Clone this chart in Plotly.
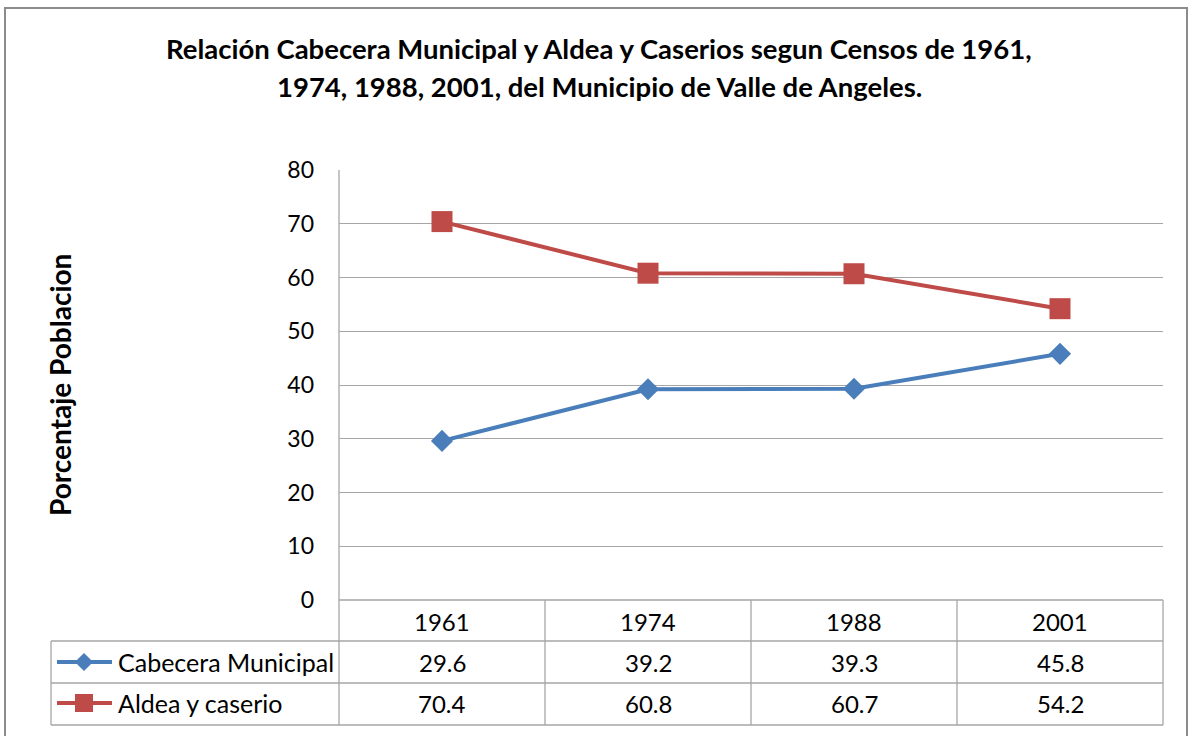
import plotly.graph_objects as go

years = ["1961", "1974", "1988", "2001"]
cabecera = [29.6, 39.2, 39.3, 45.8]
aldea = [70.4, 60.8, 60.7, 54.2]
series_names = ["Cabecera Municipal", "Aldea y caserio"]
title_lines = ["Relación Cabecera Municipal y Aldea y Caserios segun Censos de 1961,",
               "1974, 1988, 2001, del Municipio de Valle de Angeles."]
y_title = "Porcentaje Poblacion"
y_ticks = [0, 10, 20, 30, 40, 50, 60, 70, 80]

W, H = 1193, 736
BLUE = "#4a7ebb"
RED = "#be4b48"
GRID = "#a6a6a6"
FONT = "Lato, Open Sans, sans-serif"

L, R, T, B = 339, 1163, 170, 600  # plot area px
xs = list(range(len(years)))

fig = go.Figure()
fig.add_trace(go.Scatter(x=xs, y=cabecera, mode="lines+markers", name=series_names[0],
                         line=dict(color=BLUE, width=4),
                         marker=dict(symbol="diamond", size=17, color=BLUE),
                         xaxis="x", yaxis="y", showlegend=False))
fig.add_trace(go.Scatter(x=xs, y=aldea, mode="lines+markers", name=series_names[1],
                         line=dict(color=RED, width=4),
                         marker=dict(symbol="square", size=21, color=RED),
                         xaxis="x", yaxis="y", showlegend=False))

# legend glyphs in table (pixel overlay axes)
row_y = [662, 703]
colors = [BLUE, RED]
symbols = ["diamond", "square"]
gsizes = [14, 18]
for i in range(2):
    fig.add_trace(go.Scatter(x=[57, 112], y=[row_y[i], row_y[i]], mode="lines",
                             line=dict(color=colors[i], width=4), xaxis="x2", yaxis="y2",
                             showlegend=False, hoverinfo="skip"))
    fig.add_trace(go.Scatter(x=[84], y=[row_y[i]], mode="markers",
                             marker=dict(symbol=symbols[i], size=gsizes[i], color=colors[i]),
                             xaxis="x2", yaxis="y2", showlegend=False, hoverinfo="skip"))

shapes = []
def line(x0, y0, x1, y1, color=GRID, width=1.3):
    shapes.append(dict(type="line", xref="x2", yref="y2", x0=x0, y0=y0, x1=x1, y1=y1,
                       line=dict(color=color, width=width), layer="below"))

# outer frame
shapes.append(dict(type="rect", xref="x2", yref="y2", x0=5, y0=8, x1=1187, y1=745,
                   line=dict(color="#8c8c8c", width=2), layer="below"))
# table lines
col_w = (R - L) / len(years)
table_rows = [B, 641, 683, 725]
for yy in table_rows[1:]:
    line(51, yy, R, yy)
line(L, B, R, B)
line(51, 641, 51, 725)
for k in range(len(years) + 1):
    line(L + k * col_w, B, L + k * col_w, 725)
line(L, T, L, B)

annotations = []
def text(x, y, s, size=24, bold=False, xanchor="center", angle=0):
    annotations.append(dict(xref="x2", yref="y2", x=x, y=y, text=f"<b>{s}</b>" if bold else s,
                            showarrow=False, xanchor=xanchor, yanchor="middle", textangle=angle,
                            font=dict(family=FONT, size=size, color="#000000")))

text(599, 48, title_lines[0], size=27.5, bold=True)
text(599, 86, title_lines[1], size=27.5, bold=True)
text(60, 385, y_title, size=28, bold=True, angle=-90)

header_y = 621
for k, yr in enumerate(years):
    cx = L + (k + 0.5) * col_w
    text(cx, header_y, yr)
    text(cx, row_y[0], f"{cabecera[k]:.1f}")
    text(cx, row_y[1], f"{aldea[k]:.1f}")
text(116, row_y[0], series_names[0], xanchor="left", size=25)
text(116, row_y[1], series_names[1], xanchor="left", size=25)

fig.update_layout(
    width=W, height=H, margin=dict(l=0, r=0, t=0, b=0, pad=0, autoexpand=False),
    paper_bgcolor="white", plot_bgcolor="rgba(0,0,0,0)",
    xaxis=dict(domain=[L / W, R / W], range=[-0.5, len(years) - 0.5], showgrid=False,
               showticklabels=False, zeroline=False, showline=False, fixedrange=True,
               automargin=False),
    yaxis=dict(domain=[1 - B / H, 1 - T / H], range=[0, 80], tickvals=y_ticks,
               showgrid=True, gridcolor=GRID, gridwidth=1.3, zeroline=False, showline=False,
               ticks="", ticklabelstandoff=24, automargin=False,
               tickfont=dict(family=FONT, size=23, color="#000000")),
    xaxis2=dict(domain=[0, 1], range=[0, W], visible=False, anchor="y2", automargin=False),
    yaxis2=dict(domain=[0, 1], range=[H, 0], visible=False, anchor="x2", automargin=False),
    shapes=shapes, annotations=annotations,
)
fig.write_html("out.html", config={"displayModeBar": False},
               post_script="document.body.style.margin='0';document.body.style.overflow='hidden';")
